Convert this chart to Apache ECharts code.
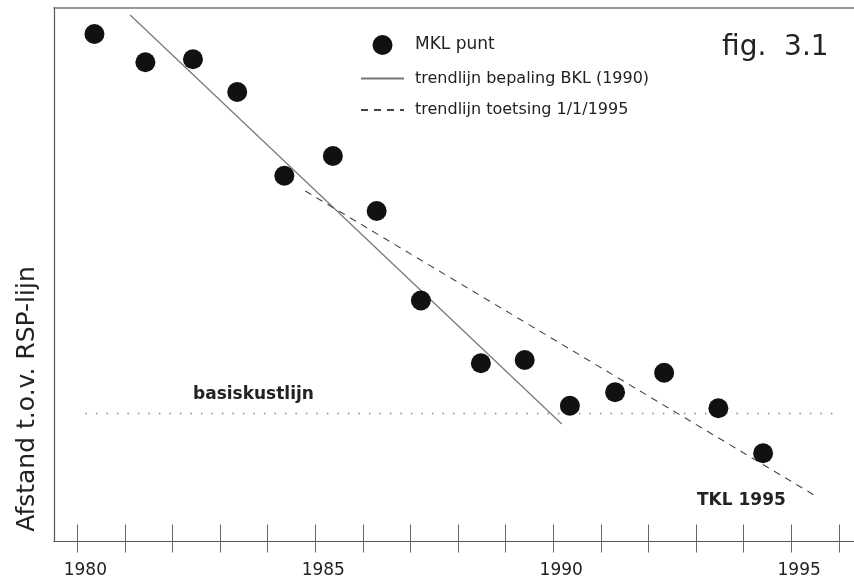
<!DOCTYPE html>
<html><head><meta charset="utf-8">
<script src="https://cdn.jsdelivr.net/npm/echarts@6/dist/echarts.min.js"></script>
<style>html,body{margin:0;padding:0;background:#fff}#c{width:854px;height:584px}</style>
</head><body><div id="c"></div>
<script>
// MKL points (year, distance to RSP line, arbitrary units)
const mklYears   = [1980.36, 1981.43, 1982.43, 1983.36, 1984.35, 1985.37, 1986.29, 1987.22, 1988.48, 1989.40, 1990.35, 1991.30, 1992.33, 1993.47, 1994.41];
const mklAfstand = [507.5, 479.2, 482.2, 449.5, 365.8, 385.5, 330.5, 241.0, 178.2, 181.5, 135.8, 149.2, 168.8, 133.2, 88.2];
// trend line BKL (1990)
const bklYears   = [1981.11, 1990.18];
const bklAfstand = [526.5, 117.5];
// trend line toetsing 1/1/1995
const toetsYears   = [1984.79, 1995.55];
const toetsAfstand = [350.5, 44.5];
// basiskustlijn
const basisYears   = [1980.17, 1995.97];
const basisAfstand = [128, 128];
// axis ticks / labels
const tickYears  = [1980,1981,1982,1983,1984,1985,1986,1987,1988,1989,1990,1991,1992,1993,1994,1995,1996];
const labelYears = [1980, 1985, 1990, 1995];

const FONT = '"DejaVu Sans", sans-serif';
const zip = (xs, ys) => xs.map((x, i) => [x, ys[i]]);
const XMIN = 1979.51, XMAX = 1996.32;
const CLEAR = 'rgba(0,0,0,0)';

const chart = echarts.init(document.getElementById('c'), null, {renderer: 'canvas'});
chart.setOption({
  animation: false,
  backgroundColor: '#fff',
  grid: {left: 54, right: 0, top: 7.5, bottom: 42.5, containLabel: false, outerBoundsMode: 'none'},
  legend: {
    orient: 'vertical', left: 355, top: 30, itemWidth: 43, itemHeight: 20, itemGap: 15.5,
    textStyle: {fontFamily: FONT, fontSize: 16, color: '#222', padding: [0, 0, 0, 6]},
    data: [
      {name: 'MKL punt', icon: 'circle', textStyle: {fontSize: 17}},
      {name: 'trendlijn bepaling BKL (1990)'},
      {name: 'trendlijn toetsing 1/1/1995'}
    ]
  },
  xAxis: [
    {type: 'value', min: XMIN, max: XMAX, position: 'bottom',
     axisLine: {show: true, onZero: false, lineStyle: {color: '#555', width: 1.2}},
     axisTick: {show: true, inside: false, length: 11, customValues: tickYears, lineStyle: {color: '#666', width: 1}},
     axisLabel: {customValues: labelYears, formatter: v => String(Math.round(v)), margin: 21,
                 fontFamily: FONT, fontSize: 17, color: '#222', padding: [0, 0, 0, 16]},
     splitLine: {show: false}},
    {type: 'value', min: XMIN, max: XMAX, position: 'bottom',
     axisLine: {show: false},
     axisTick: {show: true, inside: true, length: 17, customValues: tickYears, lineStyle: {color: '#666', width: 1}},
     axisLabel: {show: false}, splitLine: {show: false}},
    {type: 'value', min: XMIN, max: XMAX, position: 'top',
     axisLine: {show: true, onZero: false, lineStyle: {color: '#777', width: 1.5}},
     axisTick: {show: false}, axisLabel: {show: false}, splitLine: {show: false}}
  ],
  yAxis: {type: 'value', min: 0, max: 534,
    axisLine: {show: true, onZero: false, lineStyle: {color: '#555', width: 1.2}},
    axisTick: {show: false}, axisLabel: {show: false}, splitLine: {show: false}},
  series: [
    {name: 'basiskustlijn', type: 'line', data: zip(basisYears, basisAfstand), symbol: 'none', silent: true,
     itemStyle: {color: CLEAR}, lineStyle: {color: '#888', width: 1.5, type: [1.5, 9]}, z: 1},
    {name: 'trendlijn bepaling BKL (1990)', type: 'line', data: zip(bklYears, bklAfstand), symbol: 'none',
     itemStyle: {color: CLEAR}, lineStyle: {color: '#777', width: 1.2, type: 'solid'}, z: 2},
    {name: 'trendlijn toetsing 1/1/1995', type: 'line', data: zip(toetsYears, toetsAfstand), symbol: 'none',
     itemStyle: {color: CLEAR}, lineStyle: {color: '#444', width: 1.1, type: [7, 6]}, z: 2},
    {name: 'MKL punt', type: 'scatter', data: zip(mklYears, mklAfstand), symbol: 'circle', symbolSize: 20,
     itemStyle: {color: '#111', opacity: 1}, z: 3}
  ],
  graphic: [
    {type: 'text', x: 27, y: 399, rotation: Math.PI / 2,
     style: {text: 'Afstand t.o.v. RSP-lijn', font: '25px ' + FONT, fill: '#222', align: 'center', verticalAlign: 'middle'}},
    {type: 'text', x: 722, y: 48,
     style: {text: 'fig.  3.1', font: '28px ' + FONT, fill: '#222', align: 'left', verticalAlign: 'middle'}},
    {type: 'text', x: 193, y: 395,
     style: {text: 'basiskustlijn', font: 'bold 17px ' + FONT, fill: '#222', align: 'left', verticalAlign: 'middle'}},
    {type: 'text', x: 697, y: 501,
     style: {text: 'TKL 1995', font: 'bold 17px ' + FONT, fill: '#222', align: 'left', verticalAlign: 'middle'}}
  ]
});
</script>
</body></html>
